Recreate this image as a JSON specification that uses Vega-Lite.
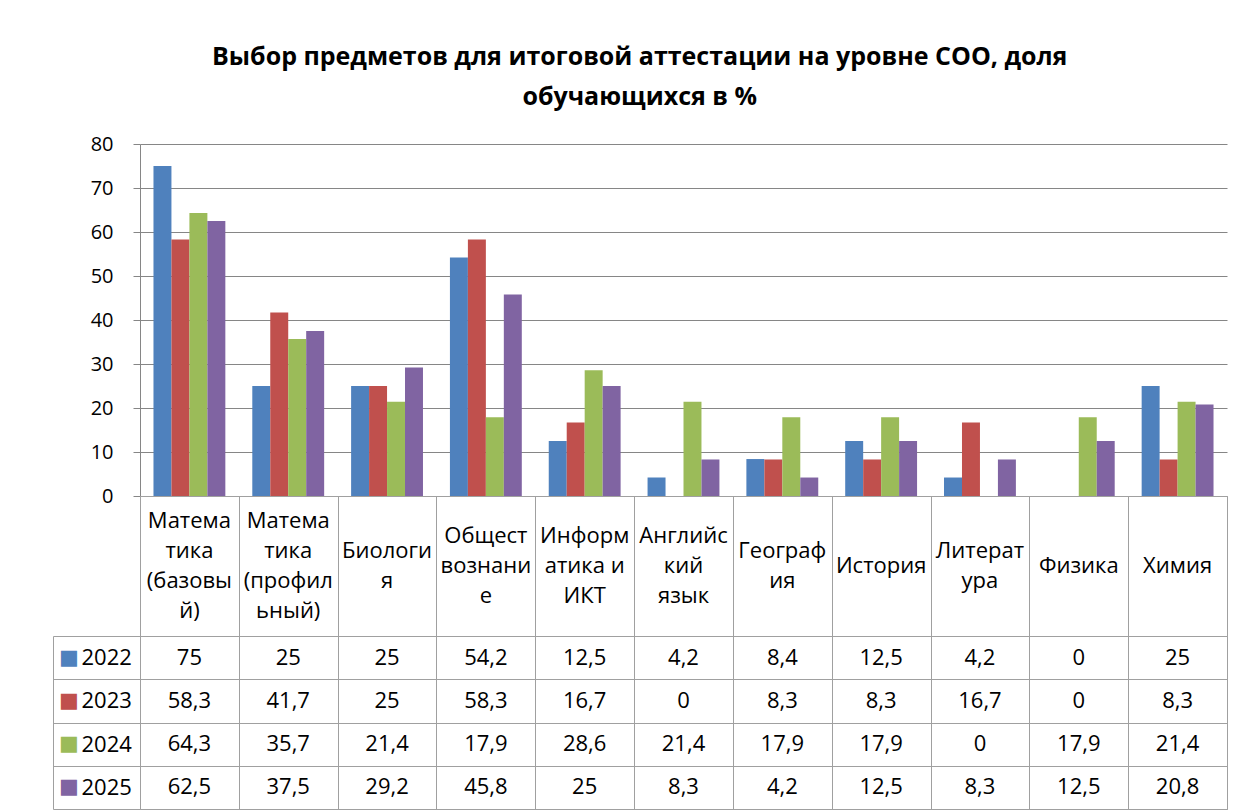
{
  "$schema": "https://vega.github.io/schema/vega-lite/v6.json",
  "background": "white",
  "padding": {"left": 52, "top": 45, "right": 16, "bottom": 4},
  "bounds": "flush",
  "title": {
    "text": ["Выбор предметов для итоговой аттестации на уровне СОО, доля", "обучающихся в %"],
    "font": "Open Sans", "fontSize": 25, "fontWeight": "bold", "color": "black",
    "anchor": "middle", "lineHeight": 40, "offset": 24
  },
  "config": {
    "font": "Open Sans",
    "locale": {"number": {"decimal": ",", "thousands": " ", "grouping": [3], "currency": ["", ""]}},
    "concat": {"spacing": 0}
  },
  "datasets": {
    "d": [
      {"subject": "Матема\nтика\n(базовы\nй)", "year": "2022", "value": 75},
      {"subject": "Матема\nтика\n(профил\nьный)", "year": "2022", "value": 25},
      {"subject": "Биологи\nя", "year": "2022", "value": 25},
      {"subject": "Общест\nвознани\nе", "year": "2022", "value": 54.2},
      {"subject": "Информ\nатика и\nИКТ", "year": "2022", "value": 12.5},
      {"subject": "Английс\nкий\nязык", "year": "2022", "value": 4.2},
      {"subject": "Географ\nия", "year": "2022", "value": 8.4},
      {"subject": "История", "year": "2022", "value": 12.5},
      {"subject": "Литерат\nура", "year": "2022", "value": 4.2},
      {"subject": "Физика", "year": "2022", "value": 0},
      {"subject": "Химия", "year": "2022", "value": 25},
      {"subject": "Матема\nтика\n(базовы\nй)", "year": "2023", "value": 58.3},
      {"subject": "Матема\nтика\n(профил\nьный)", "year": "2023", "value": 41.7},
      {"subject": "Биологи\nя", "year": "2023", "value": 25},
      {"subject": "Общест\nвознани\nе", "year": "2023", "value": 58.3},
      {"subject": "Информ\nатика и\nИКТ", "year": "2023", "value": 16.7},
      {"subject": "Английс\nкий\nязык", "year": "2023", "value": 0},
      {"subject": "Географ\nия", "year": "2023", "value": 8.3},
      {"subject": "История", "year": "2023", "value": 8.3},
      {"subject": "Литерат\nура", "year": "2023", "value": 16.7},
      {"subject": "Физика", "year": "2023", "value": 0},
      {"subject": "Химия", "year": "2023", "value": 8.3},
      {"subject": "Матема\nтика\n(базовы\nй)", "year": "2024", "value": 64.3},
      {"subject": "Матема\nтика\n(профил\nьный)", "year": "2024", "value": 35.7},
      {"subject": "Биологи\nя", "year": "2024", "value": 21.4},
      {"subject": "Общест\nвознани\nе", "year": "2024", "value": 17.9},
      {"subject": "Информ\nатика и\nИКТ", "year": "2024", "value": 28.6},
      {"subject": "Английс\nкий\nязык", "year": "2024", "value": 21.4},
      {"subject": "Географ\nия", "year": "2024", "value": 17.9},
      {"subject": "История", "year": "2024", "value": 17.9},
      {"subject": "Литерат\nура", "year": "2024", "value": 0},
      {"subject": "Физика", "year": "2024", "value": 17.9},
      {"subject": "Химия", "year": "2024", "value": 21.4},
      {"subject": "Матема\nтика\n(базовы\nй)", "year": "2025", "value": 62.5},
      {"subject": "Матема\nтика\n(профил\nьный)", "year": "2025", "value": 37.5},
      {"subject": "Биологи\nя", "year": "2025", "value": 29.2},
      {"subject": "Общест\nвознани\nе", "year": "2025", "value": 45.8},
      {"subject": "Информ\nатика и\nИКТ", "year": "2025", "value": 25},
      {"subject": "Английс\nкий\nязык", "year": "2025", "value": 8.3},
      {"subject": "Географ\nия", "year": "2025", "value": 4.2},
      {"subject": "История", "year": "2025", "value": 12.5},
      {"subject": "Литерат\nура", "year": "2025", "value": 8.3},
      {"subject": "Физика", "year": "2025", "value": 12.5},
      {"subject": "Химия", "year": "2025", "value": 20.8}
    ]
  },
  "vconcat": [
    {
      "width": 1087, "height": 352,
      "view": {"stroke": null},
      "data": {"name": "d"},
      "mark": {"type": "bar"},
      "encoding": {
        "x": {"field": "subject", "type": "nominal",
          "scale": {"domain": ["Матема\nтика\n(базовы\nй)", "Матема\nтика\n(профил\nьный)", "Биологи\nя", "Общест\nвознани\nе", "Информ\nатика и\nИКТ", "Английс\nкий\nязык", "Географ\nия", "История", "Литерат\nура", "Физика", "Химия"], "paddingInner": 0, "paddingOuter": 0}, "axis": null},
        "xOffset": {"field": "year", "type": "nominal", "scale": {"domain": ["2022", "2023", "2024", "2025"], "paddingInner": 0, "paddingOuter": 0.75}},
        "y": {"field": "value", "type": "quantitative", "scale": {"domain": [0, 80]},
          "axis": {"values": [0, 10, 20, 30, 40, 50, 60, 70, 80], "title": null, "grid": true, "gridColor": "#868686", "gridOpacity": 1,
            "domainColor": "#868686", "tickColor": "#868686", "tickSize": 7, "labelFontSize": 20, "labelColor": "black", "labelPadding": 20, "labelFont": "Open Sans"}},
        "color": {"field": "year", "type": "nominal", "scale": {"domain": ["2022", "2023", "2024", "2025"], "range": ["#4F81BD", "#C0504D", "#9BBB59", "#8064A2"]}, "legend": null}
      }
    },
    {
      "width": 1087, "height": 140,
      "view": {"stroke": "#a0a0a0"},
      "data": {"name": "d"},
      "transform": [
        {"filter": "datum.year == '2022'"},
        {"calculate": "length(split(datum.subject, '\\n'))", "as": "nlines"}
      ],
      "encoding": {
        "x": {"field": "subject", "type": "nominal",
          "scale": {"domain": ["Матема\nтика\n(базовы\nй)", "Матема\nтика\n(профил\nьный)", "Биологи\nя", "Общест\nвознани\nе", "Информ\nатика и\nИКТ", "Английс\nкий\nязык", "Географ\nия", "История", "Литерат\nура", "Физика", "Химия"], "paddingInner": 0, "paddingOuter": 0},
          "axis": {"orient": "top", "tickBand": "extent", "grid": true, "gridColor": "#a0a0a0", "gridOpacity": 1, "labels": false, "ticks": false, "domain": false, "title": null}},
        "text": {"field": "subject"}
      },
      "layer": [
        {"transform": [{"filter": "datum.nlines == 1"}],
         "mark": {"type": "text", "fontSize": 22, "lineBreak": "\n", "lineHeight": 30, "baseline": "middle", "align": "center", "color": "black", "font": "Open Sans", "dy": 0}},
        {"transform": [{"filter": "datum.nlines == 2"}],
         "mark": {"type": "text", "fontSize": 22, "lineBreak": "\n", "lineHeight": 30, "baseline": "middle", "align": "center", "color": "black", "font": "Open Sans", "dy": -15}},
        {"transform": [{"filter": "datum.nlines == 3"}],
         "mark": {"type": "text", "fontSize": 22, "lineBreak": "\n", "lineHeight": 30, "baseline": "middle", "align": "center", "color": "black", "font": "Open Sans", "dy": -30}},
        {"transform": [{"filter": "datum.nlines == 4"}],
         "mark": {"type": "text", "fontSize": 22, "lineBreak": "\n", "lineHeight": 30, "baseline": "middle", "align": "center", "color": "black", "font": "Open Sans", "dy": -45}}
      ]
    },
    {
      "width": 1087, "height": 173,
      "view": {"stroke": "#a0a0a0"},
      "data": {"name": "d"},
      "layer": [
        {
          "mark": {"type": "text", "fontSize": 22, "color": "black", "font": "Open Sans", "baseline": "middle"},
          "encoding": {
            "x": {"field": "subject", "type": "nominal",
              "scale": {"domain": ["Матема\nтика\n(базовы\nй)", "Матема\nтика\n(профил\nьный)", "Биологи\nя", "Общест\nвознани\nе", "Информ\nатика и\nИКТ", "Английс\nкий\nязык", "Географ\nия", "История", "Литерат\nура", "Физика", "Химия"], "paddingInner": 0, "paddingOuter": 0},
              "axis": {"orient": "top", "tickBand": "extent", "grid": true, "gridColor": "#a0a0a0", "gridOpacity": 1, "labels": false, "ticks": false, "domain": false, "title": null}},
            "y": {"field": "year", "type": "nominal", "scale": {"domain": ["2022", "2023", "2024", "2025"], "paddingInner": 0, "paddingOuter": 0},
              "axis": {"orient": "left", "tickBand": "extent", "grid": true, "gridColor": "#a0a0a0", "gridOpacity": 1, "offset": 87, "tickSize": -87,
                "tickColor": "#a0a0a0", "domainColor": "#a0a0a0", "labelAlign": "left", "labelPadding": 59, "labelFontSize": 22, "labelColor": "black", "labelFont": "Open Sans", "title": null}},
            "text": {"field": "value", "type": "quantitative", "format": ".1~f"}
          }
        },
        {
          "transform": [{"filter": "datum.subject == 'Матема\\nтика\\n(базовы\\nй)'"}],
          "mark": {"type": "text", "text": "■", "font": "DejaVu Sans", "fontSize": 21, "dx": -71, "align": "center", "baseline": "middle"},
          "encoding": {
            "x": {"field": "subject", "type": "nominal", "bandPosition": 0},
            "y": {"field": "year", "type": "nominal"},
            "color": {"field": "year", "type": "nominal", "legend": null}
          }
        }
      ]
    }
  ]
}
